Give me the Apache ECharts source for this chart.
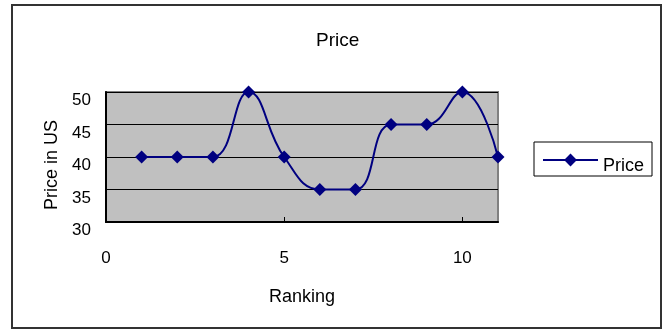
<!DOCTYPE html>
<html>
<head>
<meta charset="utf-8">
<script src="https://cdn.jsdelivr.net/npm/echarts@6/dist/echarts.min.js"></script>
<style>
  html, body { margin: 0; padding: 0; background: #fff; }
  #chart { width: 664px; height: 331px; }
</style>
</head>
<body>
<div id="chart"></div>
<script>
// Ranking positions and the price at each rank
const rankings = [1, 2, 3, 4, 5, 6, 7, 8, 9, 10, 11];
const prices = [40, 40, 40, 50, 40, 35, 35, 45, 45, 50, 40];

const FONT = '"Liberation Sans", Arial, sans-serif';
const NAVY = '#000080';

const chart = echarts.init(document.getElementById('chart'), null, { renderer: 'canvas' });

chart.setOption({
  animation: false,
  backgroundColor: '#ffffff',
  textStyle: { fontFamily: FONT, color: '#000' },
  title: {
    text: 'Price',
    left: 311,
    top: 26,
    textStyle: { fontFamily: FONT, fontSize: 19, fontWeight: 'normal', color: '#000' }
  },
  graphic: [{
    type: 'rect',
    shape: { x: 12, y: 5, width: 649, height: 323 },
    style: { fill: 'none', stroke: '#333', lineWidth: 2 },
    silent: true,
    z: -1
  }],
  legend: {
    left: 534,
    top: 142,
    orient: 'vertical',
    padding: [3, 8, 1, 8],
    itemWidth: 55,
    itemHeight: 16,
    itemGap: 0,
    borderColor: '#000',
    borderWidth: 1,
    backgroundColor: '#fff',
    formatter: '{t|{name}}',
    textStyle: {
      fontFamily: FONT, fontSize: 18, color: '#000',
      rich: { t: { fontFamily: FONT, fontSize: 18, color: '#000', lineHeight: 18, padding: [12, 0, 0, 0] } }
    },
    data: ['Price']
  },
  grid: {
    show: true,
    left: 106,
    top: 92,
    right: 166,
    bottom: 109,
    backgroundColor: '#C0C0C0',
    borderColor: '#808080',
    borderWidth: 2
  },
  xAxis: {
    type: 'value',
    min: 0,
    max: 11,
    interval: 5,
    name: 'Ranking',
    nameLocation: 'middle',
    nameGap: 66,
    nameTextStyle: { fontFamily: FONT, fontSize: 18, color: '#000' },
    axisLine: { show: true, lineStyle: { color: '#000', width: 2 } },
    axisTick: { show: true, inside: true, length: 5, lineStyle: { color: '#000', width: 1 } },
    axisLabel: { margin: 28, fontFamily: FONT, fontSize: 17, color: '#000', showMaxLabel: false },
    splitLine: { show: false }
  },
  yAxis: {
    type: 'value',
    min: 30,
    max: 50,
    interval: 5,
    name: 'Price in US',
    nameLocation: 'middle',
    nameRotate: 90,
    nameGap: 41,
    nameTextStyle: { fontFamily: FONT, fontSize: 18, color: '#000', padding: [0, 16, 0, 0] },
    axisLine: { show: true, lineStyle: { color: '#000', width: 2 } },
    axisTick: { show: false },
    axisLabel: { margin: 15, fontFamily: FONT, fontSize: 17, color: '#000', verticalAlign: 'top' },
    splitLine: { show: true, lineStyle: { color: '#000', width: 1 } }
  },
  series: [{
    name: 'Price',
    type: 'line',
    smooth: 0.45,
    data: rankings.map((r, i) => [r, prices[i]]),
    symbol: 'diamond',
    symbolSize: 13,
    itemStyle: { color: NAVY },
    lineStyle: { color: NAVY, width: 2 }
  }]
});
</script>
</body>
</html>
